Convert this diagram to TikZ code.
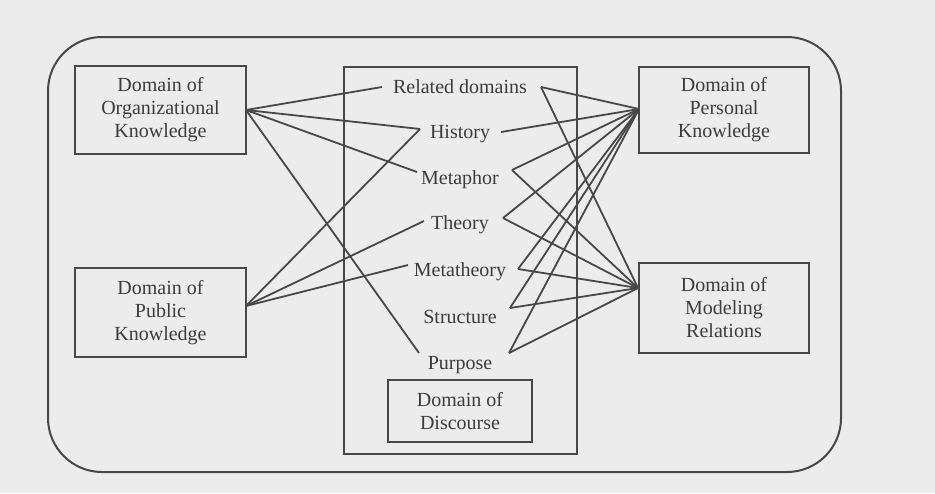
\documentclass[tikz,border=0pt]{standalone}
\usepackage{fontspec}
\setmainfont{Liberation Serif}
\definecolor{bgcol}{RGB}{236,236,236}
\definecolor{lncol}{RGB}{72,72,72}
\definecolor{txcol}{RGB}{60,60,60}
\begin{document}
\begin{tikzpicture}[x=0.5pt,y=-0.5pt,
  lnk/.style={draw=lncol,line width=0.9pt},
  domainbox/.style={draw=lncol,line width=1pt,align=center,text=txcol,
    font=\fontsize{10}{11.5}\selectfont,inner sep=0pt},
  lbl/.style={text=txcol,font=\fontsize{10}{11.5}\selectfont,anchor=base,inner sep=0pt}]
\fill[bgcol] (0,0) rectangle (935,493);
\useasboundingbox (0,0) rectangle (935,493);
% outer frame
\draw[lncol,line width=1pt,rounded corners=27pt] (48,37) rectangle (841,472);
% central frame
\node[draw=lncol,line width=1pt,minimum width=116.5pt,minimum height=193.5pt,inner sep=0pt] (frame) at (460.5,260.5) {};
% boxes
\node[domainbox,minimum width=85.5pt,minimum height=44pt] (org) at (160.5,110) {Domain of\\Organizational\\Knowledge};
\node[domainbox,minimum width=85.5pt,minimum height=44.5pt] (pub) at (160.5,312.5) {Domain of\\Public\\Knowledge};
\node[domainbox,minimum width=85pt,minimum height=43pt] (per) at (724,110) {Domain of\\Personal\\Knowledge};
\node[domainbox,minimum width=85pt,minimum height=45pt] (mod) at (724,308) {Domain of\\Modeling\\Relations};
\node[domainbox,minimum width=72pt,minimum height=31pt] (dis) at (460,411) {Domain of\\Discourse};
% concept labels
\node[lbl] (rel) at (460,93) {Related domains};
\node[lbl] (his) at (460,138) {History};
\node[lbl] (met) at (460,184) {Metaphor};
\node[lbl] (the) at (460,229) {Theory};
\node[lbl] (mth) at (460,276) {Metatheory};
\node[lbl] (str) at (460,323) {Structure};
\node[lbl] (pur) at (460,369) {Purpose};
% junction coordinates
\coordinate (orgj) at (246,110);
\coordinate (pubj) at (246,306);
\coordinate (perj) at (639,109);
\coordinate (modj) at (638,288);
\coordinate (rell) at (382,87);  \coordinate (relr) at (541,87);
\coordinate (hisl) at (420,129); \coordinate (hisr) at (501,132);
\coordinate (metl) at (417,172); \coordinate (metr) at (512,170);
\coordinate (thel) at (424,221); \coordinate (ther) at (503,218);
\coordinate (mthl) at (408,265); \coordinate (mthr) at (518,269);
\coordinate (strr) at (510,308);
\coordinate (purl) at (419,353); \coordinate (purr) at (509,353);
% left connectors
\foreach \t in {rell,hisl,metl,purl} \draw[lnk] (orgj) -- (\t);
\foreach \t in {hisl,thel,mthl} \draw[lnk] (pubj) -- (\t);
% right connectors
\foreach \t in {relr,hisr,metr,ther,mthr,strr,purr} \draw[lnk] (perj) -- (\t);
\foreach \t in {relr,metr,ther,mthr,strr,purr} \draw[lnk] (modj) -- (\t);
\end{tikzpicture}
\end{document}
